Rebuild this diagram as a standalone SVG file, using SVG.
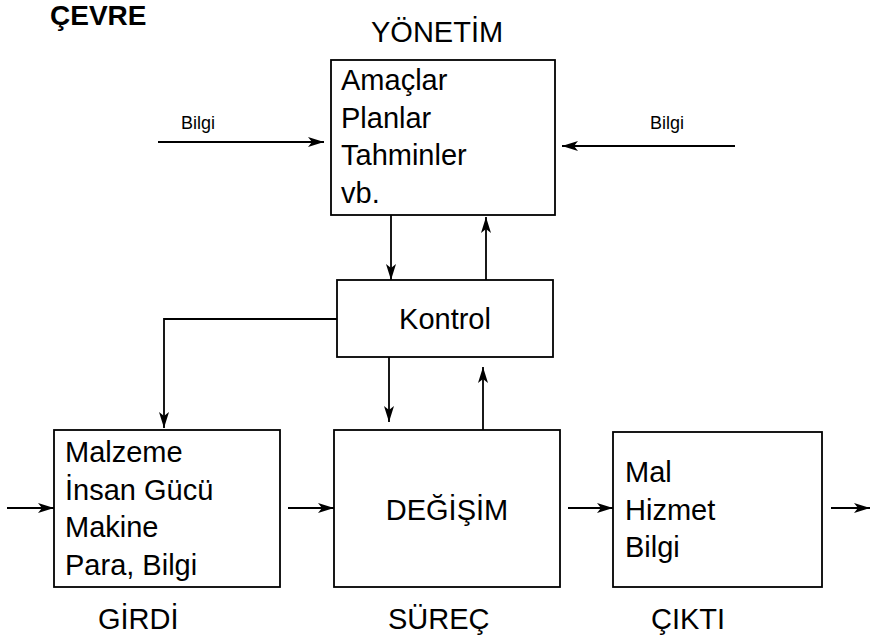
<svg xmlns="http://www.w3.org/2000/svg" width="871" height="642" viewBox="0 0 871 642">
<defs>
<style>
.box{fill:#fff;stroke:#000;stroke-width:1.8}
.t{font-family:"Liberation Sans",Arial,sans-serif;fill:#000}
.big{font-size:29px}
.small{font-size:18px}
.line{fill:none;stroke:#000;stroke-width:1.8}
</style>
<marker id="ah" markerUnits="userSpaceOnUse" markerWidth="17" markerHeight="10" refX="16" refY="5" orient="auto">
<path d="M0,0 L16,5 L0,10 L4,5 Z" fill="#000"/>
</marker>
</defs>
<rect width="871" height="642" fill="#fff"/>
<text class="t" x="50" y="25" font-size="28" font-weight="bold">ÇEVRE</text>
<text class="t big" x="371" y="42">YÖNETİM</text>

<g id="yonetim">
<rect class="box" x="331" y="60" width="224" height="155"/>
<text class="t big" x="341" y="90">Amaçlar</text>
<text class="t big" x="341" y="128">Planlar</text>
<text class="t big" x="341" y="165">Tahminler</text>
<text class="t big" x="341" y="203">vb.</text>
</g>
<g id="kontrol">
<rect class="box" x="337" y="280" width="216" height="77"/>
<text class="t big" x="445" y="329" text-anchor="middle">Kontrol</text>
</g>
<g id="girdi">
<rect class="box" x="54" y="430" width="226" height="157"/>
<text class="t big" x="65" y="462">Malzeme</text>
<text class="t big" x="65" y="500">İnsan Gücü</text>
<text class="t big" x="65" y="537">Makine</text>
<text class="t big" x="65" y="575">Para, Bilgi</text>
</g>
<g id="degisim">
<rect class="box" x="334" y="430" width="226" height="157"/>
<text class="t big" x="447" y="520" text-anchor="middle">DEĞİŞİM</text>
</g>
<g id="cikti">
<rect class="box" x="613" y="432" width="209" height="155"/>
<text class="t big" x="625" y="482">Mal</text>
<text class="t big" x="625" y="520">Hizmet</text>
<text class="t big" x="625" y="557">Bilgi</text>
</g>
<g id="labels">
<text class="t small" x="181" y="129">Bilgi</text>
<text class="t small" x="650" y="129">Bilgi</text>
<text class="t big" x="98" y="629">GİRDİ</text>
<text class="t big" x="388" y="629">SÜREÇ</text>
<text class="t big" x="651" y="629">ÇIKTI</text>
</g>
<g id="connectors">
<line class="line" x1="158" y1="142" x2="324" y2="142" marker-end="url(#ah)"/>
<line class="line" x1="735" y1="146" x2="562" y2="146" marker-end="url(#ah)"/>
<line class="line" x1="391" y1="215" x2="391" y2="280" marker-end="url(#ah)"/>
<line class="line" x1="486" y1="280" x2="486" y2="217" marker-end="url(#ah)"/>
<polyline class="line" points="337,319 164,319 164,428" marker-end="url(#ah)"/>
<line class="line" x1="389" y1="357" x2="389" y2="422" marker-end="url(#ah)"/>
<line class="line" x1="483" y1="430" x2="483" y2="367" marker-end="url(#ah)"/>
<line class="line" x1="7" y1="508" x2="54" y2="508" marker-end="url(#ah)"/>
<line class="line" x1="288" y1="508" x2="334" y2="508" marker-end="url(#ah)"/>
<line class="line" x1="568" y1="508" x2="613" y2="508" marker-end="url(#ah)"/>
<line class="line" x1="831" y1="508" x2="870" y2="508" marker-end="url(#ah)"/>
</g>
</svg>
